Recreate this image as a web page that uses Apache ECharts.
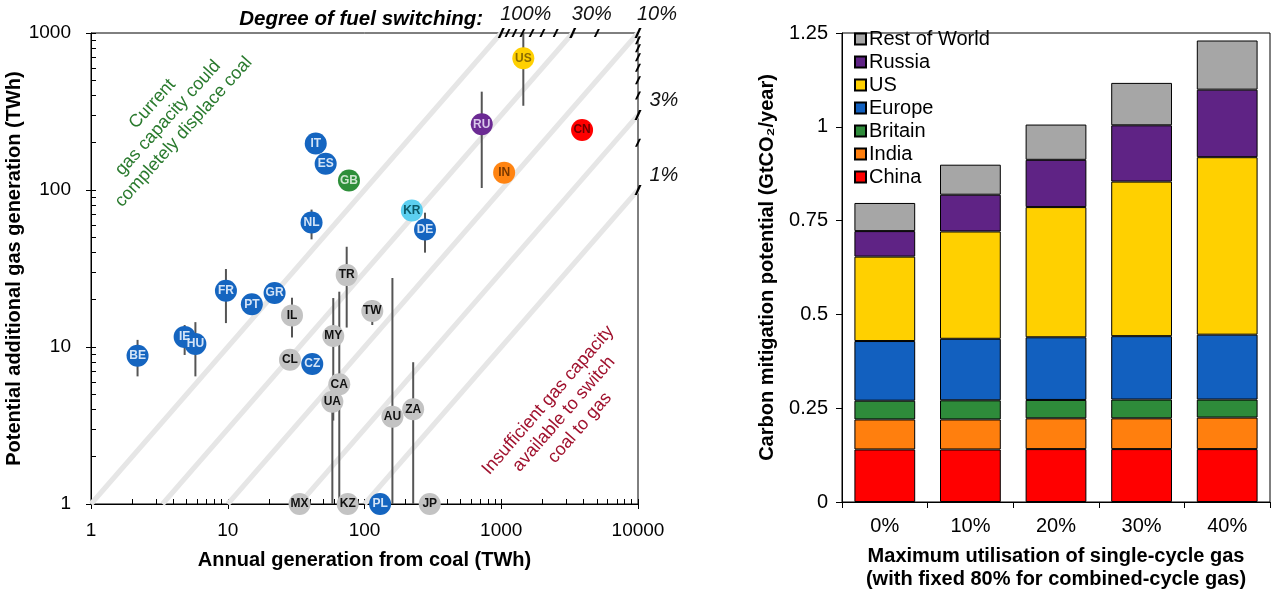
<!DOCTYPE html>
<html><head><meta charset="utf-8">
<script src="https://cdn.jsdelivr.net/npm/echarts@6/dist/echarts.min.js"></script>
<style>html,body{margin:0;padding:0;background:#fff}#c{width:1271px;height:596px}</style>
</head><body><div id="c"></div>
<script>
// ---------- Left panel data ----------
const countries = ['BE','IE','HU','FR','PT','GR','IL','CL','CZ','NL','IT','ES','GB','MY','CA','UA','TR','TW','AU','ZA','MX','KZ','PL','JP','KR','DE','RU','US','IN','CN'];
const coalTWh   = [2.19,4.84,5.8,9.7,15,22,29.5,28.5,41.5,41,44,52,77,59.1,65.4,58.2,74.1,114,160,227,33.5,75.4,130,300,222,277,720,1450,1050,3900];
const gasTWh    = [8.8,11.6,10.45,22.8,18.7,22.1,15.9,8.3,7.8,62,198,147,115,11.75,5.79,4.48,28.7,16.96,3.6,4.01,1,1,1,1,74,56,262,690,129,241];
const groupOf   = ['EU','EU','EU','EU','EU','EU','ROW','ROW','EU','EU','EU','EU','GB','ROW','ROW','ROW','ROW','ROW','ROW','ROW','ROW','ROW','EU','ROW','KR','EU','RU','US','IN','CN'];
// error-bar ranges [country, high, low]
const errCountry = ['US','RU','NL','DE','TR','FR','IL','TW','IE','HU','BE','MY','UA','CA','AU','ZA'];
const errHigh    = [1000,423,75,71.7,43.5,31.4,20.6,19.9,13.8,14.4,11.1,20.5,4.5,22.5,27.5,8.0];
const errLow     = [344,103,48.5,39.9,13.3,14.2,11.5,13.8,8.9,6.5,6.5,3.4,1,1,1,1];
// degree of fuel switching (diagonal guide lines)
const degreeMajor = [1,0.3,0.1,0.03,0.01];
const degreeMajorLabels = ['100%','30%','10%','3%','1%'];
const degreeMinor = [0.9,0.8,0.7,0.6,0.5,0.4,0.2,0.09,0.08,0.07,0.06,0.05,0.04,0.02];
const xTickLabels = [1,10,100,1000,10000];
const yTickLabels = [1,10,100,1000];

// ---------- Right panel data ----------
const utilCats = ['0%','10%','20%','30%','40%'];
const barChina   = [0.140,0.140,0.141,0.141,0.141];
const barIndia   = [0.080,0.080,0.082,0.082,0.084];
const barBritain = [0.050,0.051,0.049,0.050,0.048];
const barEurope  = [0.159,0.164,0.167,0.169,0.173];
const barUS      = [0.225,0.286,0.347,0.412,0.473];
const barRussia  = [0.068,0.098,0.126,0.150,0.180];
const barRoW     = [0.075,0.080,0.094,0.113,0.131];
const yBarTicks  = [0,0.25,0.5,0.75,1,1.25];

// ---------- styles ----------
const FONT = 'Arial, "Liberation Sans", sans-serif';
const groupStyle = {
  EU:{fill:'#1565c0', text:'#d4e4f7'},
  ROW:{fill:'#c3c3c3', text:'#111111'},
  GB:{fill:'#2e8f3a', text:'#cde6cf'},
  KR:{fill:'#5ccff0', text:'#0b5a6a'},
  RU:{fill:'#6b2a93', text:'#d9c6ea'},
  US:{fill:'#ffd000', text:'#8c6c00'},
  IN:{fill:'#ff8412', text:'#7a3800'},
  CN:{fill:'#ff0000', text:'#6e0000'}
};
const X_MIN = 1, X_MAX = 10000, Y_MIN = 1, Y_MAX = 1000;

function logTicks(minV, maxV){
  const out=[];
  for(let d=minV; d<maxV; d*=10){ for(let k=1;k<10;k++) out.push(d*k); }
  out.push(maxV); return out;
}

const pointData = countries.map((c,i)=>({
  name:c, value:[coalTWh[i], gasTWh[i]],
  itemStyle:{color:groupStyle[groupOf[i]].fill, opacity:1},
  label:{color:groupStyle[groupOf[i]].text}
}));
const errData = errCountry.map((c,i)=>[coalTWh[countries.indexOf(c)], errHigh[i], errLow[i]]);

const diagSeries = degreeMajor.map(f=>{
  const xs = Math.max(X_MIN, Y_MIN/f);
  const xe = Math.min(X_MAX, Y_MAX/f);
  return {type:'line', xAxisIndex:0, yAxisIndex:0, data:[[xs,f*xs],[xe,f*xe]],
    symbol:'none', silent:true, z:1, lineStyle:{color:'#e6e6e6', width:5}};
});
function degreePoint(f){ return f>=0.1 ? [Y_MAX/f, Y_MAX] : [X_MAX, X_MAX*f]; }
const slash = 'path://M0,10L6.5,0L10,0L3.5,10Z';
const topMajor = [], rightMajor = [];
degreeMajor.forEach((f,i)=>{
  const item = {value:degreePoint(f), name:degreeMajorLabels[i]};
  if (f>=0.1) topMajor.push(item); else rightMajor.push(item);
});
const minorSlash = degreeMinor.map(f=>degreePoint(f));

const series = [
  ...diagSeries,
  {type:'custom', xAxisIndex:0, yAxisIndex:0, data:errData, z:3, silent:true,
   renderItem:function(params, api){
     const x=api.value(0), hi=api.value(1), lo=api.value(2);
     const p1=api.coord([x,hi]), p2=api.coord([x,lo]);
     return {type:'line', shape:{x1:p1[0],y1:p1[1],x2:p2[0],y2:p2[1]}, style:{stroke:'#555555', lineWidth:2}};
   }},
  {type:'scatter', xAxisIndex:0, yAxisIndex:0, data:pointData, symbolSize:22, clip:false, z:5,
   itemStyle:{opacity:1},
   label:{show:true, position:'inside', formatter:'{b}', fontFamily:FONT, fontWeight:'bold', fontSize:12}},
  {type:'scatter', xAxisIndex:0, yAxisIndex:0, data:minorSlash, symbol:slash, symbolSize:[6,8], clip:false, z:6, silent:true,
   itemStyle:{color:'#000', opacity:1}},
  {type:'scatter', xAxisIndex:0, yAxisIndex:0, data:topMajor, symbol:slash, symbolSize:[7,10], clip:false, z:6, silent:true,
   itemStyle:{color:'#000', opacity:1},
   label:{show:true, position:'top', align:'left', distance:4, offset:[-1,0], formatter:'{b}', fontFamily:FONT, fontStyle:'italic', fontSize:20, color:'#111'}},
  {type:'scatter', xAxisIndex:0, yAxisIndex:0, data:rightMajor, symbol:slash, symbolSize:[7,10], clip:false, z:6, silent:true,
   itemStyle:{color:'#000', opacity:1},
   label:{show:true, position:'right', distance:8, offset:[0,-15], formatter:'{b}', fontFamily:FONT, fontStyle:'italic', fontSize:20, color:'#111'}},
];

const barDefs = [
  ['China',barChina,'#ff0000'],['India',barIndia,'#ff7f0e'],['Britain',barBritain,'#2e8b3a'],
  ['Europe',barEurope,'#1260bf'],['US',barUS,'#ffd000'],['Russia',barRussia,'#5f2385'],['Rest of World',barRoW,'#a6a6a6']
];
barDefs.forEach(([n,vals,col])=>{
  series.push({type:'bar', name:n, xAxisIndex:2, yAxisIndex:2, stack:'total', data:vals, barWidth:'71%',
    itemStyle:{color:col, borderColor:'#000', borderWidth:1}});
});

const logAxisLabel = {fontFamily:FONT, fontSize:19, color:'#000', formatter:v=>String(v)};
const nameStyle = {fontFamily:FONT, fontSize:20, fontWeight:'bold', color:'#000'};

const option = {
  animation:false,
  grid:[
    {left:91, top:33, width:547, height:471, show:true, borderColor:'#000', borderWidth:1, backgroundColor:'transparent'},
    {left:842, top:33, width:428, height:471, show:true, borderColor:'#000', borderWidth:1, backgroundColor:'transparent'}
  ],
  legend:{
    data:['Rest of World','Russia','US','Europe','Britain','India','China'],
    orient:'vertical', left:849, top:24, itemWidth:11, itemHeight:11, itemGap:3, icon:'rect',
    textStyle:{fontFamily:FONT, fontSize:20, lineHeight:20, color:'#000', padding:[0,0,0,-2]}
  },
  xAxis:[
    {type:'log', logBase:10, gridIndex:0, min:X_MIN, max:X_MAX, position:'bottom',
     axisLine:{show:true, lineStyle:{color:'#000', width:1}},
     axisTick:{show:true, inside:true, length:5, customValues:logTicks(X_MIN,X_MAX), lineStyle:{color:'#000'}},
     axisLabel:Object.assign({margin:17, customValues:xTickLabels}, logAxisLabel),
     splitLine:{show:false}, minorTick:{show:false},
     name:'Annual generation from coal (TWh)', nameLocation:'middle', nameGap:46, nameTextStyle:nameStyle},
    {type:'log', logBase:10, gridIndex:0, min:X_MIN, max:X_MAX, position:'bottom',
     axisLine:{show:false}, axisTick:{show:true, inside:false, length:5, lineStyle:{color:'#000'}},
     axisLabel:{show:false}, splitLine:{show:false}},
    {type:'category', gridIndex:1, data:utilCats, position:'bottom',
     axisLine:{show:true, lineStyle:{color:'#000'}},
     axisTick:{show:true, length:6, lineStyle:{color:'#000'}},
     axisLabel:{fontFamily:FONT, fontSize:20, color:'#000', margin:14},
     name:'Maximum utilisation of single-cycle gas\n(with fixed 80% for combined-cycle gas)',
     nameLocation:'middle', nameGap:43, nameTextStyle:Object.assign({lineHeight:23}, nameStyle)}
  ],
  yAxis:[
    {type:'log', logBase:10, gridIndex:0, min:Y_MIN, max:Y_MAX, position:'left',
     axisLine:{show:true, lineStyle:{color:'#000', width:1}},
     axisTick:{show:true, inside:true, length:5, customValues:logTicks(Y_MIN,Y_MAX), lineStyle:{color:'#000'}},
     axisLabel:Object.assign({margin:20, customValues:yTickLabels}, logAxisLabel),
     splitLine:{show:false},
     name:'Potential additional gas generation (TWh)', nameLocation:'middle', nameGap:61, nameTextStyle:nameStyle},
    {type:'log', logBase:10, gridIndex:0, min:Y_MIN, max:Y_MAX, position:'left',
     axisLine:{show:false}, axisTick:{show:true, inside:false, length:5, lineStyle:{color:'#000'}},
     axisLabel:{show:false}, splitLine:{show:false}},
    {type:'value', gridIndex:1, min:0, max:1.25, interval:0.25, position:'left',
     axisLine:{show:true, lineStyle:{color:'#000'}},
     axisTick:{show:true, length:6, lineStyle:{color:'#000'}},
     axisLabel:{fontFamily:FONT, fontSize:20, color:'#000', margin:14, customValues:yBarTicks},
     splitLine:{show:false},
     name:'Carbon mitigation potential (GtCO₂/year)', nameLocation:'middle', nameGap:65, nameTextStyle:nameStyle}
  ],
  graphic:[
    {type:'text', x:483, y:19, z:10, style:{text:'Degree of fuel switching:', fontFamily:FONT, fontSize:20.5, fontWeight:'bold', fontStyle:'italic', fill:'#000', align:'right', verticalAlign:'middle'}},
    {type:'text', x:168, y:118, rotation:48*Math.PI/180, z:10,
     style:{text:'Current\ngas capacity could\ncompletely displace coal', fontFamily:FONT, fontSize:18, lineHeight:21, fill:'#2a7a2e', align:'center', verticalAlign:'middle'}},
    {type:'text', x:564, y:414, rotation:49*Math.PI/180, z:10,
     style:{text:'Insufficient gas capacity\navailable to switch\ncoal to gas', fontFamily:FONT, fontSize:18, lineHeight:21, fill:'#a0122e', align:'center', verticalAlign:'middle'}}
  ],
  series:series
};
const chart = echarts.init(document.getElementById('c'), null, {renderer:'canvas'});
chart.setOption(option);
</script></body></html>
